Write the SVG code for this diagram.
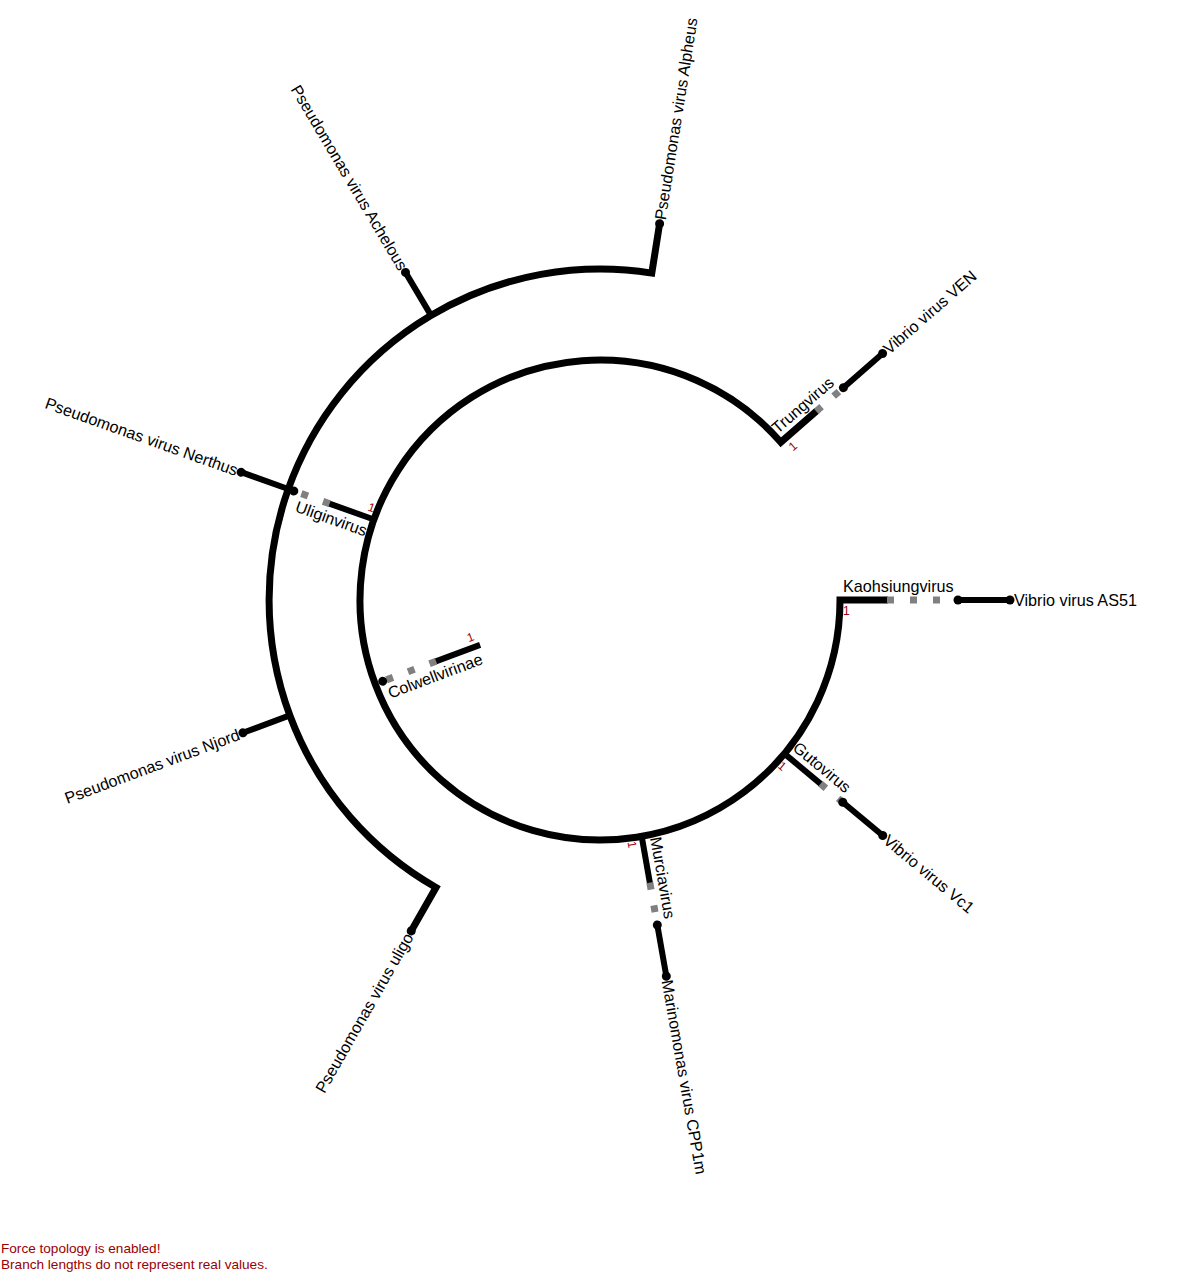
<svg xmlns="http://www.w3.org/2000/svg" width="1200" height="1272" viewBox="0 0 1200 1272">
<style>
.arc{fill:none;stroke:#000;stroke-width:7;stroke-linejoin:miter}
.br{fill:none;stroke:#000;stroke-width:6}
.gr{fill:none;stroke:#808080;stroke-width:7;stroke-dasharray:7 16}
circle{fill:#000}
text{font-family:"Liberation Sans",Arial,sans-serif;font-size:16.2px;fill:#000}
.one{font-size:12px;fill:#a00000}
.note{font-size:13.6px;fill:#990000}
</style>
<rect width="1200" height="1272" fill="#fff"/>
<g id="connectors">
<path class="arc" d="M 888 600 L 840 600 A 240 240 0 1 1 780.8 442.2 L 817 410.7"/>
<path class="arc" d="M 659.6 223.7 L 651.8 273.1 A 331 331 0 0 0 436 887.5 L 411.2 930.9"/>
<line class="gr" x1="887" y1="600" x2="958" y2="600"/>
<line class="br" x1="958" y1="600" x2="1010" y2="600"/>
<g transform="rotate(-41.1 600 600)">
<line class="gr" x1="887" y1="600" x2="923" y2="600"/>
<line class="br" x1="923" y1="600" x2="975" y2="600"/>
</g>
<g transform="rotate(39.8 600 600)">
<line class="br" x1="840" y1="600" x2="888" y2="600"/>
<line class="gr" x1="887" y1="600" x2="916" y2="600"/>
<line class="br" x1="916" y1="600" x2="968" y2="600"/>
</g>
<g transform="rotate(80 600 600)">
<line class="br" x1="840" y1="600" x2="888" y2="600"/>
<line class="gr" x1="887" y1="600" x2="930" y2="600"/>
<line class="br" x1="930" y1="600" x2="982" y2="600"/>
</g>
<g transform="rotate(199.6 600 600)">
<line class="br" x1="840" y1="600" x2="888" y2="600"/>
<line class="gr" x1="887" y1="600" x2="925" y2="600"/>
<line class="br" x1="931" y1="600" x2="981" y2="600"/>
</g>
<g transform="rotate(159.5 600 600)">
<line class="br" x1="728" y1="600" x2="776" y2="600"/>
<line class="gr" x1="775" y1="600" x2="832" y2="600"/>
</g>
<g transform="rotate(-120.7 600 600)">
<line class="br" x1="931" y1="600" x2="981" y2="600"/>
</g>
<g transform="rotate(159.6 600 600)">
<line class="br" x1="931" y1="600" x2="981" y2="600"/>
</g>
</g>
<g id="kaohsiungvirus">
<text x="843" y="592">Kaohsiungvirus</text>
<text class="one" x="843" y="615">1</text>
</g>
<g id="vibrio-virus-as51">
<circle cx="958" cy="600" r="4.5"/><circle cx="1010" cy="600" r="4.5"/>
<text x="1014" y="605.5">Vibrio virus AS51</text>
</g>
<g id="trungvirus" transform="rotate(-41.1 600 600)">
<text x="843" y="592">Trungvirus</text>
<text class="one" x="843" y="615">1</text>
</g>
<g id="vibrio-virus-ven" transform="rotate(-41.1 600 600)">
<circle cx="923" cy="600" r="4.5"/><circle cx="975" cy="600" r="4.5"/>
<text x="979" y="605.5">Vibrio virus VEN</text>
</g>
<g id="gutovirus" transform="rotate(39.8 600 600)">
<text x="843" y="592">Gutovirus</text>
<text class="one" x="843" y="615">1</text>
</g>
<g id="vibrio-virus-vc1" transform="rotate(39.8 600 600)">
<circle cx="916" cy="600" r="4.5"/><circle cx="968" cy="600" r="4.5"/>
<text x="972" y="605.5">Vibrio virus Vc1</text>
</g>
<g id="murciavirus" transform="rotate(80 600 600)">
<text x="843" y="592">Murciavirus</text>
<text class="one" x="843" y="615">1</text>
</g>
<g id="marinomonas-virus-cpp1m" transform="rotate(80 600 600)">
<circle cx="930" cy="600" r="4.5"/><circle cx="982" cy="600" r="4.5"/>
<text x="986" y="605.5">Marinomonas virus CPP1m</text>
</g>
<g id="uliginvirus" transform="rotate(199.6 600 600)">
<circle cx="925" cy="600" r="4.5"/>
<text x="843" y="619" text-anchor="end" transform="rotate(180 843 600)">Uliginvirus</text>
<text class="one" x="843" y="593.6" text-anchor="end" transform="rotate(180 843 600)">1</text>
</g>
<g id="colwellvirinae" transform="rotate(159.5 600 600)">
<circle cx="832" cy="600" r="4.5"/>
<text x="731" y="619" text-anchor="end" transform="rotate(180 731 600)">Colwellvirinae</text>
<text class="one" x="731" y="593.6" text-anchor="end" transform="rotate(180 731 600)">1</text>
</g>
<g id="pseudomonas-virus-alpheus" transform="rotate(-81 600 600)">
<circle cx="981" cy="600" r="4.5"/>
<text x="985" y="605.5">Pseudomonas virus Alpheus</text>
</g>
<g id="pseudomonas-virus-achelous" transform="rotate(-120.7 600 600)">
<circle cx="981" cy="600" r="4.5"/>
<text x="985" y="605.5" text-anchor="end" transform="rotate(180 985 600)">Pseudomonas virus Achelous</text>
</g>
<g id="pseudomonas-virus-nerthus" transform="rotate(199.6 600 600)">
<circle cx="981" cy="600" r="4.5"/>
<text x="985" y="605.5" text-anchor="end" transform="rotate(180 985 600)">Pseudomonas virus Nerthus</text>
</g>
<g id="pseudomonas-virus-njord" transform="rotate(159.6 600 600)">
<circle cx="981" cy="600" r="4.5"/>
<text x="985" y="605.5" text-anchor="end" transform="rotate(180 985 600)">Pseudomonas virus Njord</text>
</g>
<g id="pseudomonas-virus-uligo" transform="rotate(119.7 600 600)">
<circle cx="981" cy="600" r="4.5"/>
<text x="985" y="605.5" text-anchor="end" transform="rotate(180 985 600)">Pseudomonas virus uligo</text>
</g>
<g id="notes">
<text class="note" x="1" y="1253">Force topology is enabled!</text>
<text class="note" x="1" y="1268.5">Branch lengths do not represent real values.</text>
</g>
</svg>
